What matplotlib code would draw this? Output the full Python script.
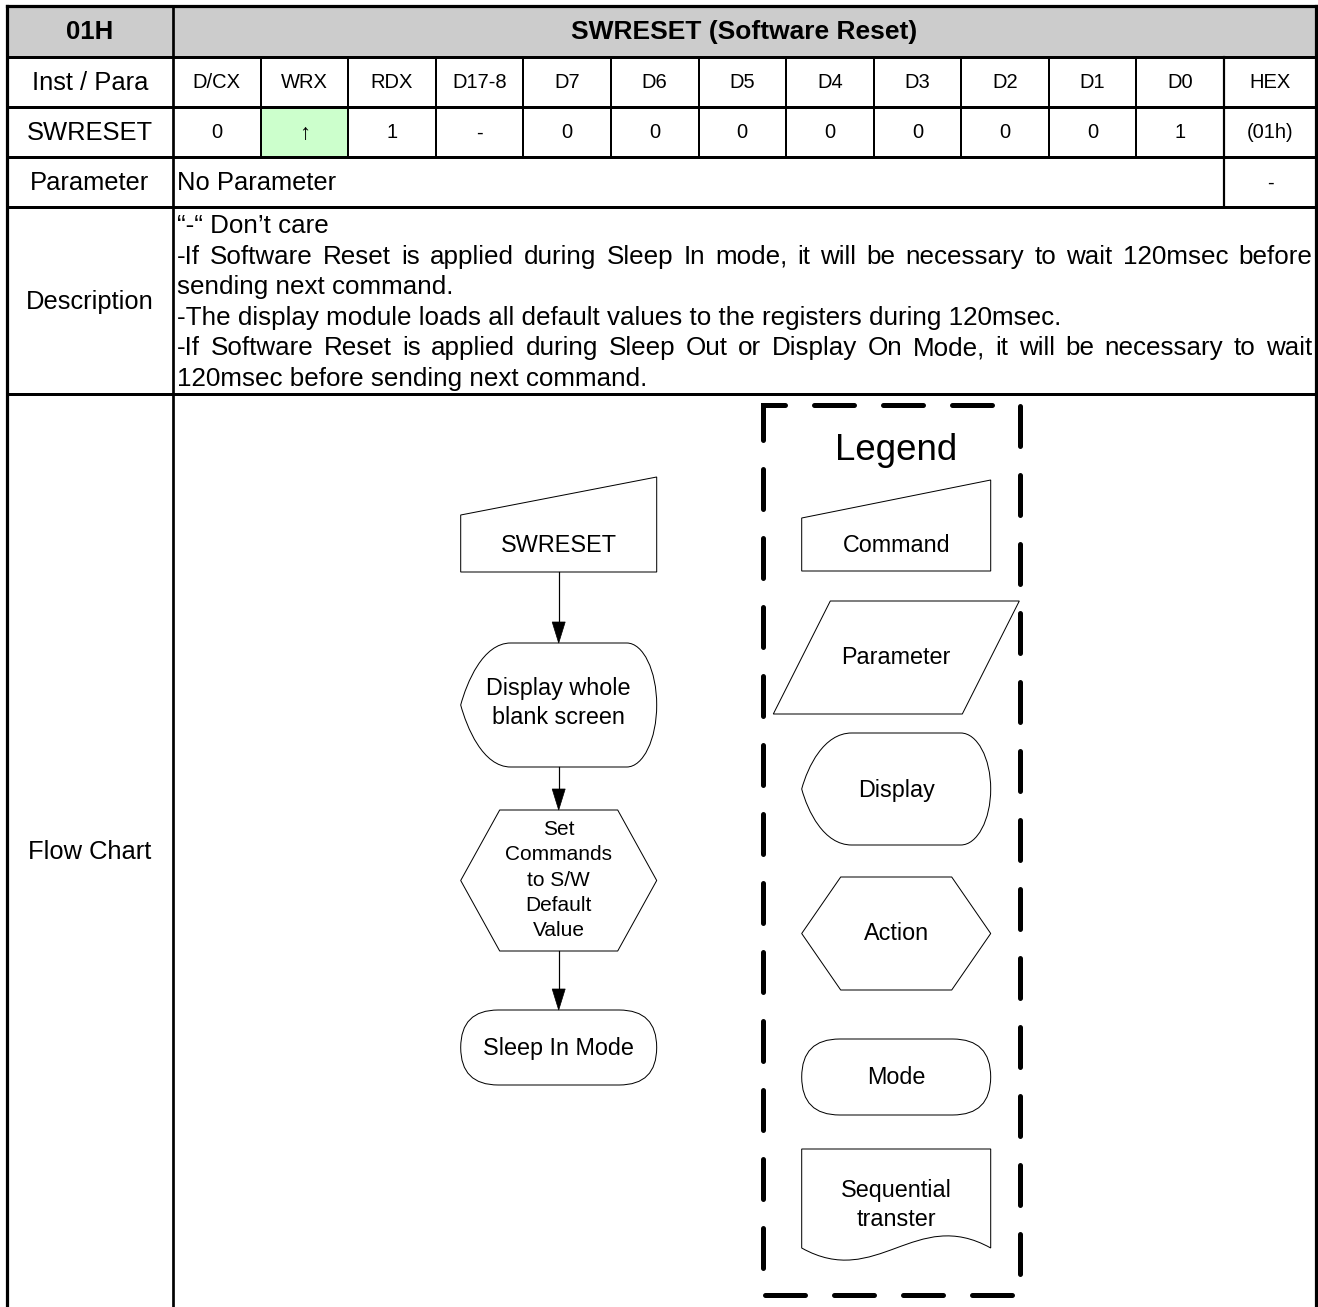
import matplotlib
matplotlib.use("Agg")
import matplotlib.pyplot as plt
from matplotlib.patches import Polygon, Rectangle, PathPatch, FancyBboxPatch
from matplotlib.path import Path

plt.rcParams['font.family'] = ['Liberation Sans', 'DejaVu Sans']

# ---- table content ----
code = '01H'
title = 'SWRESET (Software Reset)'
row_labels = ['Inst / Para', 'SWRESET', 'Parameter', 'Description', 'Flow Chart']
bit_names = ['D/CX', 'WRX', 'RDX', 'D17-8', 'D7', 'D6', 'D5', 'D4', 'D3', 'D2', 'D1', 'D0', 'HEX']
bit_values = ['0', '\u2191', '1', '-', '0', '0', '0', '0', '0', '0', '0', '1', '(01h)']
param_text = 'No Parameter'
param_hex = '-'
desc_lines = [
    '\u201c-\u201c Don\u2019t care',
    '-If Software Reset is applied during Sleep In mode, it will be necessary to wait 120msec before',
    'sending next command.',
    '-The display module loads all default values to the registers during 120msec.',
    '-If Software Reset is applied during Sleep Out or Display On Mode, it will be necessary to wait',
    '120msec before sending next command.',
]
desc_justify = [False, True, False, False, True, False]

# ---- flow chart content ----
flow_steps = ['SWRESET', 'Display whole\nblank screen', 'Set\nCommands\nto S/W\nDefault\nValue', 'Sleep In Mode']
flow_kinds = ['command', 'display', 'action', 'mode']
legend_names = ['Command', 'Parameter', 'Display', 'Action', 'Mode', 'Sequential\ntranster']
legend_kinds = ['command', 'parameter', 'display', 'action', 'mode', 'document']

W, H = 1318, 1307
fig = plt.figure(figsize=(W / 100, H / 100), dpi=100)
ax = fig.add_axes([0, 0, 1, 1])
ax.set_xlim(0, W)
ax.set_ylim(H, 0)
ax.axis('off')

PX = 0.72  # points per pixel
L, R, T = 6.5, 1316, 5.5
c0, chex = 173, 1224
rows = [T, 57, 107, 157, 207, 394, H]
ncol = len(bit_names) - 1
cols = [c0 + i * (chex - c0) / ncol for i in range(ncol + 1)] + [R]

# fills
ax.add_patch(Rectangle((L, T), R - L, rows[1] - T, fc='#cccccc', ec='none'))
ax.add_patch(Rectangle((cols[1], rows[2]), cols[2] - cols[1], rows[3] - rows[2], fc='#ccffcc', ec='none'))

# grid lines
for y in rows[1:6]:
    ax.plot([L, R], [y, y], color='k', lw=3 * PX, solid_capstyle='butt')
ax.plot([L, R], [T, T], color='k', lw=3.2 * PX, solid_capstyle='projecting')
for x in (L, R):
    ax.plot([x, x], [T, H], color='k', lw=3.2 * PX, solid_capstyle='projecting')
ax.plot([c0, c0], [T, H], color='k', lw=2.7 * PX)
for x in cols[1:-2]:
    ax.plot([x, x], [rows[1], rows[3]], color='k', lw=2 * PX)
ax.plot([chex, chex], [rows[1], rows[4]], color='k', lw=2.2 * PX)

def mid(a, b):
    return (a + b) / 2

# texts of table
big, small, desc = 18.4, 14.5, 18.75
ax.text(mid(L, c0), mid(rows[0], rows[1]) + 1, code, fontsize=18.5, fontweight='bold', ha='center', va='center')
ax.text(mid(c0, R), mid(rows[0], rows[1]) + 1, title, fontsize=19, fontweight='bold', ha='center', va='center')
for i, lab in enumerate(row_labels[:3]):
    ax.text(mid(L, c0), mid(rows[i + 1], rows[i + 2]) + 1, lab, fontsize=big, ha='center', va='center')
ax.text(mid(L, c0), mid(rows[4], rows[5]) + 2, row_labels[3], fontsize=big, ha='center', va='center')
ax.text(mid(L, c0), 852, row_labels[4], fontsize=big, ha='center', va='center')
for i in range(len(bit_names)):
    ax.text(mid(cols[i], cols[i + 1]), mid(rows[1], rows[2]) + 1, bit_names[i], fontsize=small, ha='center', va='center')
    vs = 16 if bit_values[i] == '\u2191' else small
    ax.text(mid(cols[i], cols[i + 1]), mid(rows[2], rows[3]) + 1, bit_values[i], fontsize=vs, ha='center', va='center')
ax.text(c0 + 4, mid(rows[3], rows[4]) + 1, param_text, fontsize=big, ha='left', va='center')
ax.text(mid(chex, R), mid(rows[3], rows[4]) + 1, param_hex, fontsize=small, ha='center', va='center')

# description lines (some justified)
renderer = fig.canvas.get_renderer()
dx0, dx1 = c0 + 4, R - 4
dy0, dstep = 226, 30.6
for k, (line, just) in enumerate(zip(desc_lines, desc_justify)):
    y = dy0 + k * dstep
    if not just:
        ax.text(dx0, y, line, fontsize=desc, ha='left', va='center')
        continue
    words = line.split(' ')
    arts = [ax.text(0, y, w, fontsize=desc, ha='left', va='center') for w in words]
    widths = [a.get_window_extent(renderer).width for a in arts]
    gap = (dx1 - dx0 - sum(widths)) / (len(words) - 1)
    x = dx0
    for a, w in zip(arts, widths):
        a.set_x(x)
        x += w + gap

# ---- shapes ----
lw_shape = 1.0 * PX

def shape_path(kind, x0, x1, y0, y1):
    ym = mid(y0, y1)
    if kind == 'command':
        verts = [(x0, y0 + 38), (x1, y0), (x1, y1), (x0, y1), (x0, y0 + 38)]
        codes = [Path.MOVETO] + [Path.LINETO] * 3 + [Path.CLOSEPOLY]
    elif kind == 'parameter':
        off = 57
        verts = [(x0 + off, y0), (x1, y0), (x1 - off, y1), (x0, y1), (x0 + off, y0)]
        codes = [Path.MOVETO] + [Path.LINETO] * 3 + [Path.CLOSEPOLY]
    elif kind == 'action':
        off = 39
        verts = [(x0, ym), (x0 + off, y0), (x1 - off, y0), (x1, ym), (x1 - off, y1), (x0 + off, y1), (x0, ym)]
        codes = [Path.MOVETO] + [Path.LINETO] * 5 + [Path.CLOSEPOLY]
    elif kind == 'display':
        fl, rx = 50, 30
        ry = (y1 - y0) / 2
        k = 0.552
        xa, xb = x0 + fl, x1 - rx
        verts = [(xa, y0), (xb, y0),
                 (xb + k * rx, y0), (x1, ym - k * ry), (x1, ym),
                 (x1, ym + k * ry), (xb + k * rx, y1), (xb, y1),
                 (xa, y1),
                 (xa - 28, y1), (x0 + 6, ym + 22), (x0, ym),
                 (x0 + 6, ym - 22), (xa - 28, y0), (xa, y0)]
        codes = [Path.MOVETO, Path.LINETO,
                 Path.CURVE4, Path.CURVE4, Path.CURVE4,
                 Path.CURVE4, Path.CURVE4, Path.CURVE4,
                 Path.LINETO,
                 Path.CURVE4, Path.CURVE4, Path.CURVE4,
                 Path.CURVE4, Path.CURVE4, Path.CURVE4]
    elif kind == 'document':
        yb = y1 - 14
        verts = [(x0, y0), (x1, y0), (x1, yb),
                 (x1 - 75, yb - 42), (x0 + 75, yb + 42), (x0, yb), (x0, y0)]
        codes = [Path.MOVETO, Path.LINETO, Path.LINETO,
                 Path.CURVE4, Path.CURVE4, Path.CURVE4, Path.CLOSEPOLY]
    return Path(verts, codes)

def draw_shape(kind, x0, x1, y0, y1):
    if kind == 'mode':
        h = y1 - y0
        ax.add_patch(FancyBboxPatch((x0, y0), x1 - x0, h,
                                    boxstyle='round,pad=0,rounding_size=%g' % (h / 2),
                                    fc='white', ec='k', lw=lw_shape))
    else:
        ax.add_patch(PathPatch(shape_path(kind, x0, x1, y0, y1), fc='white', ec='k', lw=lw_shape))

def draw_label(text, xc, yc, size, step):
    lines = text.split('\n')
    n = len(lines)
    for i, s in enumerate(lines):
        ax.text(xc, yc + (i - (n - 1) / 2) * step, s, fontsize=size, ha='center', va='center')

# main flow
fx0, fx1 = 460.7, 656.7
fxc = mid(fx0, fx1)
flow_boxes = [(477, 572), (643, 767), (810, 951), (1010, 1085)]
flow_text_y = [545, 703, 880, 1048]
flow_size = [16.8, 16.8, 15.0, 16.8]
flow_step = [29, 29, 25.3, 29]
for kind, txt, (y0, y1), ty, fs, st in zip(flow_kinds, flow_steps, flow_boxes, flow_text_y, flow_size, flow_step):
    draw_shape(kind, fx0, fx1, y0, y1)
    draw_label(txt, fxc, ty, fs, st)

for (a0, a1), (b0, b1) in zip(flow_boxes[:-1], flow_boxes[1:]):
    ax.plot([fxc, fxc], [a1, b0 - 18], color='k', lw=1.2 * PX)
    ax.add_patch(Polygon([(fxc - 6.5, b0 - 21), (fxc + 6.5, b0 - 21), (fxc, b0)], closed=True, fc='k', ec='k', lw=0.5))

# legend
gx0, gx1 = 801.7, 990.7
gxc = mid(gx0, gx1)
legend_boxes = [(480, 571), (601, 714), (733, 845), (877, 990), (1039, 1115), (1149, 1262)]
legend_text_y = [545, 658, 790, 934, 1077, 1205]
for kind, txt, (y0, y1), ty in zip(legend_kinds, legend_names, legend_boxes, legend_text_y):
    if kind == 'parameter':
        draw_shape(kind, 773.3, 1019.3, y0, y1)
    else:
        draw_shape(kind, gx0, gx1, y0, y1)
    draw_label(txt, gxc, ty, 16.8, 28.5)

ax.text(896, 451, 'Legend', fontsize=26.4, ha='center', va='center')

bx0, bx1, by0, by1 = 763, 1020, 405, 1295
ax.plot([bx0, bx0, bx1, bx1, bx0, bx0], [by0 + 18, by0, by0, by1, by1, by0 + 18],
        color='k', lw=5 * PX, dashes=(8, 5.8), dash_capstyle='round', solid_joinstyle='miter',
        dash_joinstyle='miter')

fig.savefig('out.png', dpi=100)
